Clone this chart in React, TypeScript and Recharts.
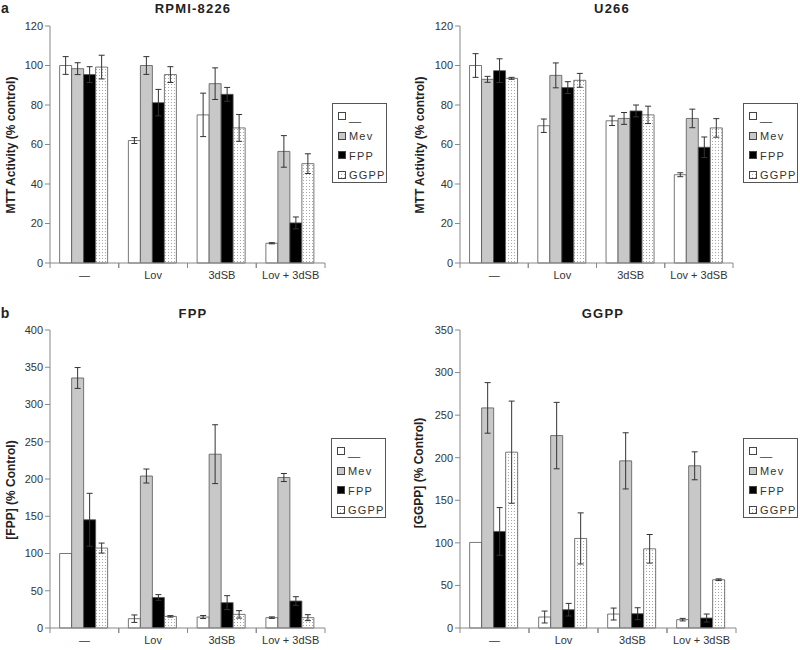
import React from "react";
import { BarChart, Bar, XAxis, YAxis, ErrorBar } from "recharts";

const categories = ["—", "Lov", "3dSB", "Lov + 3dSB"];
const seriesNames = ["__", "Mev", "FPP", "GGPP"];

// a: RPMI-8226
const rpmiNone = [100, 62, 75, 10];
const rpmiNoneErr = [4.5, 1.5, 11, 0.3];
const rpmiMev = [98.4, 100, 90.8, 56.5];
const rpmiMevErr = [3, 4.5, 8, 8];
const rpmiFpp = [95.4, 81.2, 85.4, 20.3];
const rpmiFppErr = [4, 6.7, 3.5, 3];
const rpmiGgpp = [99.2, 95.4, 68.4, 50.3];
const rpmiGgppErr = [6, 4, 6.8, 5];

// a: U266
const u266None = [100, 69.5, 72, 44.7];
const u266NoneErr = [6, 3.4, 2.4, 1];
const u266Mev = [93, 95, 73.2, 73.2];
const u266MevErr = [1.5, 6.3, 3, 4.7];
const u266Fpp = [97.4, 88.8, 77, 58.6];
const u266FppErr = [6, 3, 3, 5.2];
const u266Ggpp = [93.5, 92.5, 75, 68.4];
const u266GgppErr = [0.5, 3.5, 4.4, 4.7];

// b: [FPP]
const fppNone = [100, 12.5, 14.7, 13.9];
const fppNoneErr = [0, 5, 2, 1];
const fppMev = [335.6, 204, 233.3, 202];
const fppMevErr = [14, 9.4, 39.5, 5.4];
const fppFpp = [145.3, 41, 34, 36.2];
const fppFppErr = [35.5, 3.8, 9.4, 5.8];
const fppGgpp = [107.3, 15.6, 18.3, 13.9];
const fppGgppErr = [6.7, 1, 5, 4];

// b: [GGPP]
const ggppNone = [100.5, 12.9, 16.4, 9.8];
const ggppNoneErr = [0, 7, 7, 1.5];
const ggppMev = [258.5, 226, 196.3, 190.5];
const ggppMevErr = [29.7, 39, 33, 16.4];
const ggppFpp = [113.4, 21.5, 16.8, 11.7];
const ggppFppErr = [28, 7.4, 7, 4.7];
const ggppGgpp = [206.5, 105.2, 93, 56.7];
const ggppGgppErr = [60, 30, 16.8, 1];

const ticks120 = [0, 20, 40, 60, 80, 100, 120];
const ticks400 = [0, 50, 100, 150, 200, 250, 300, 350, 400];
const ticks350 = [0, 50, 100, 150, 200, 250, 300, 350];

const FONT = '"Liberation Sans", Arial, sans-serif';

function rows(s: number[][]) {
  return categories.map((cat, i) => ({
    cat,
    v0: s[0][i], e0: s[1][i],
    v1: s[2][i], e1: s[3][i],
    v2: s[4][i], e2: s[5][i],
    v3: s[6][i], e3: s[7][i],
  }));
}

const rpmiData = rows([rpmiNone, rpmiNoneErr, rpmiMev, rpmiMevErr, rpmiFpp, rpmiFppErr, rpmiGgpp, rpmiGgppErr]);
const u266Data = rows([u266None, u266NoneErr, u266Mev, u266MevErr, u266Fpp, u266FppErr, u266Ggpp, u266GgppErr]);
const fppData = rows([fppNone, fppNoneErr, fppMev, fppMevErr, fppFpp, fppFppErr, fppGgpp, fppGgppErr]);
const ggppData = rows([ggppNone, ggppNoneErr, ggppMev, ggppMevErr, ggppFpp, ggppFppErr, ggppGgpp, ggppGgppErr]);

function DotPattern({ id }: { id: string }) {
  return (
    <pattern id={id} width="3" height="3" patternUnits="userSpaceOnUse">
      <rect width="3" height="3" fill="#fff" />
      <rect x="0" y="0" width="1" height="1" fill="#a8a8a8" />
    </pattern>
  );
}

function makeTick(band: number) {
  return (props: any) => {
    const { x, y, payload } = props;
    const ay = y - 8; // axis line
    return (
      <g>
        <line x1={x - band / 2} x2={x - band / 2} y1={ay} y2={ay + 5} stroke="#888" />
        <line x1={x + band / 2} x2={x + band / 2} y1={ay} y2={ay + 5} stroke="#888" />
        <text x={x} y={y} dy="0.71em" textAnchor="middle" fontSize={11} fill="#333" fontFamily={FONT}>
          {payload.value}
        </text>
      </g>
    );
  };
}

function Legend({ left, top, pid }: { left: number; top: number; pid: string }) {
  const fills = ["#fff", "#c8c8c8", "#000", `url(#${pid})`];
  return (
    <div
      style={{
        position: "absolute", left, top, width: 55, height: 80,
        border: "1px solid #555", boxSizing: "border-box", padding: "3px 0 0 5px",
        fontSize: 11, color: "#333", letterSpacing: 1.2,
      }}
    >
      {seriesNames.map((n, i) => (
        <div key={n} style={{ height: 19.5, display: "flex", alignItems: "center" }}>
          <svg width={9} height={9} style={{ marginRight: 2 }}>
            <defs><DotPattern id={pid} /></defs>
            <rect x={0.5} y={0.5} width={7} height={7} fill={fills[i]} stroke="#444" />
          </svg>
          <span style={{ letterSpacing: i === 0 ? 0 : 1.2 }}>{n}</span>
        </div>
      ))}
    </div>
  );
}

interface PanelProps {
  left: number; top: number; width: number; height: number;
  margin: { top: number; right: number; bottom: number; left: number };
  data: any[]; domain: [number, number]; ticks: number[];
  pid: string;
}

function Panel({ left, top, width, height, margin, data, domain, ticks, pid }: PanelProps) {
  const band = (width - margin.left - margin.right - 30) / 4;
  const fills = ["#fff", "#c8c8c8", "#000", `url(#${pid})`];
  return (
    <div style={{ position: "absolute", left, top }}>
      <BarChart width={width} height={height} data={data} margin={margin} barCategoryGap="14%" barGap={0}>
        <defs><DotPattern id={pid} /></defs>
        <XAxis
          dataKey="cat"
          height={20}
          stroke="#888"
          tickLine={false}
          tick={makeTick(band)}
          interval={0}
        />
        <YAxis
          width={30}
          domain={domain}
          ticks={ticks}
          interval={0}
          stroke="#888"
          tickSize={5}
          tick={{ fontSize: 11, fill: "#333", fontFamily: FONT }}
        />
        {[0, 1, 2, 3].map((k) => (
          <Bar key={k} dataKey={`v${k}`} fill={fills[k]} stroke="#555" strokeWidth={0.8} isAnimationActive={false}>
            <ErrorBar dataKey={`e${k}`} width={3} stroke="#333" strokeWidth={1} />
          </Bar>
        ))}
      </BarChart>
    </div>
  );
}

function Label({ x, y, text, size = 13, rotate = false, spacing = 0 }: { x: number; y: number; text: string; size?: number; rotate?: boolean; spacing?: number }) {
  return (
    <div
      style={{
        position: "absolute", left: x, top: y, whiteSpace: "nowrap",
        transform: `translate(-50%, -50%)${rotate ? " rotate(-90deg)" : ""}`,
        fontSize: size, fontWeight: "bold", color: "#222", letterSpacing: spacing,
      }}
    >
      {text}
    </div>
  );
}

export default function App() {
  return (
    <div style={{ position: "absolute", left: 0, top: 0, width: 800, height: 650, background: "#fff", fontFamily: FONT, overflow: "hidden" }}>
      <Panel left={0} top={0} width={400} height={300} margin={{ top: 26, right: 75, bottom: 17, left: 20 }} data={rpmiData} domain={[0, 120]} ticks={ticks120} pid="dotA" />
      <Panel left={400} top={0} width={400} height={300} margin={{ top: 26, right: 67, bottom: 17, left: 30 }} data={u266Data} domain={[0, 120]} ticks={ticks120} pid="dotB" />
      <Panel left={0} top={310} width={400} height={340} margin={{ top: 20, right: 75, bottom: 2, left: 20 }} data={fppData} domain={[0, 400]} ticks={ticks400} pid="dotC" />
      <Panel left={400} top={310} width={400} height={340} margin={{ top: 20, right: 64, bottom: 2, left: 30 }} data={ggppData} domain={[0, 350]} ticks={ticks350} pid="dotD" />

      <Label x={5} y={8} text="a" size={14} />
      <Label x={193} y={8} text="RPMI-8226" spacing={1.2} />
      <Label x={612} y={8} text="U266" spacing={1.2} />
      <Label x={5} y={313} text="b" size={14} />
      <Label x={193} y={313} text="FPP" spacing={1.2} />
      <Label x={603} y={313} text="GGPP" spacing={1.2} />

      <Label x={11} y={145} text="MTT Activity (% control)" size={12} rotate />
      <Label x={420} y={145} text="MTT Activity (% control)" size={12} rotate />
      <Label x={11} y={490} text="[FPP] (% Control)" size={12} rotate />
      <Label x={419} y={473} text="[GGPP] (% Control)" size={12} rotate />

      <Legend left={332} top={103} pid="dotLA" />
      <Legend left={743} top={103} pid="dotLB" />
      <Legend left={331} top={438} pid="dotLC" />
      <Legend left={743} top={438} pid="dotLD" />
    </div>
  );
}
